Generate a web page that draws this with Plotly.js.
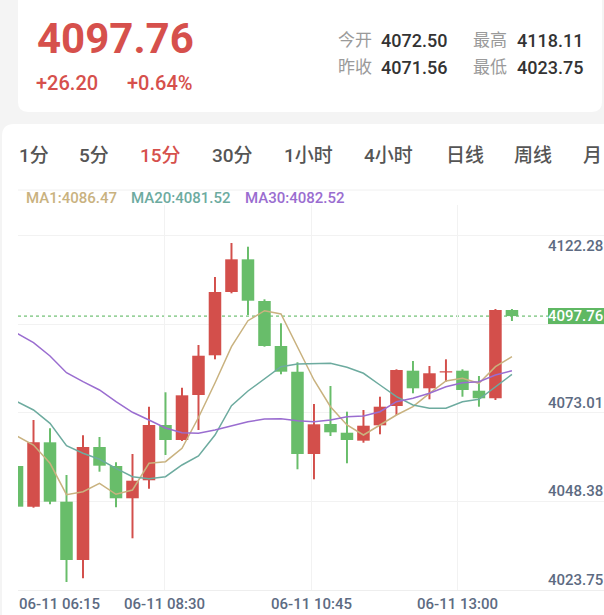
<!DOCTYPE html>
<html><head><meta charset="utf-8">
<script src="https://cdn.plot.ly/plotly-3.0.1.min.js"></script>
<style>html,body{margin:0;padding:0;background:#f4f4f4;overflow:hidden}#chart{width:604px;height:615px}</style>
</head><body><div id="chart"></div>
<script>
// ---------- data ----------
const times = ['06:15','06:30','06:45','07:00','07:15','07:30','07:45','08:00','08:15','08:30','08:45','09:00','09:15','09:30','09:45','10:00','10:15','10:30','10:45','11:00','11:15','11:30','11:45','12:00','12:15','12:30','12:45','13:00','13:15','13:30','13:45'];
const open  = [4056.04,4044.71,4062.63,4046.10,4029.87,4061.32,4056.04,4047.05,4052.06,4067.45,4063.27,4075.80,4086.85,4104.46,4113.56,4101.96,4089.43,4082.28,4059.38,4067.72,4065.30,4063.08,4067.36,4072.73,4082.56,4077.66,4082.06,4082.56,4076.99,4074.88,4099.45];
const close = [4044.71,4062.63,4046.10,4029.87,4061.32,4056.12,4047.05,4051.94,4067.45,4063.27,4075.71,4086.73,4104.46,4113.56,4102.04,4089.43,4082.28,4059.38,4067.64,4065.41,4063.27,4067.25,4072.54,4082.75,4077.66,4081.84,4082.40,4077.19,4074.88,4099.45,4097.76];
const high  = [4056.50,4068.84,4066.53,4053.53,4064.58,4064.11,4057.07,4059.38,4072.54,4076.55,4077.83,4089.71,4108.64,4118.11,4117.07,4102.43,4095.75,4084.90,4073.29,4078.30,4071.15,4071.62,4075.32,4082.95,4085.26,4083.87,4085.73,4082.95,4081.08,4099.73,4099.73];
const low   = [4044.50,4044.43,4045.38,4023.75,4024.78,4054.45,4044.54,4035.91,4049.72,4059.10,4062.99,4066.05,4085.73,4104.10,4098.06,4089.24,4081.56,4055.12,4052.33,4064.38,4056.79,4062.52,4064.86,4070.23,4076.27,4074.60,4079.50,4075.32,4072.54,4074.40,4096.39];
const ma1   = [4064.39,4061.88,4056.79,4048.05,4048.88,4051.22,4048.16,4049.36,4056.79,4057.23,4060.96,4069.53,4079.14,4089.24,4096.48,4099.26,4098.34,4089.24,4079.97,4072.54,4067.45,4064.66,4067.45,4070.23,4072.54,4076.27,4079.69,4080.44,4079.05,4083.67,4086.47];
const ma20  = [4073.93,4071.62,4067.92,4061.69,4059.57,4057.90,4055.39,4053.06,4052.50,4053.06,4056.31,4058.82,4064.66,4072.82,4076.91,4080.17,4083.67,4084.42,4084.42,4084.62,4083.51,4081.84,4078.58,4075.32,4073.01,4072.09,4072.09,4073.93,4074.60,4077.94,4081.52];
const ma30  = [4092.97,4090.35,4086.65,4082.00,4079.50,4077.19,4073.93,4070.98,4068.84,4066.61,4065.30,4065.14,4066.05,4067.25,4068.36,4069.12,4069.20,4068.64,4068.36,4068.84,4069.76,4069.95,4071.15,4073.93,4074.88,4076.27,4078.11,4079.22,4079.50,4081.36,4082.52];
const yTickLabels = ['4122.28','4097.65','4073.01','4048.38','4023.75'];
const xTickLabels = ['06-11 06:15','06-11 08:30','06-11 10:45','06-11 13:00'];
const lastPrice = 4097.76;
const legendTexts = ['MA1:4086.47','MA20:4081.52','MA30:4082.52'];
const tabs = ['1分','5分','15分','30分','1小时','4小时','日线','周线','月'];
const quoteLabels = ['今开','最高','昨收','最低'];
const quoteValues = ['4072.50','4118.11','4071.56','4023.75'];
const headPrice = '4097.76', headChange = '+26.20', headPct = '+0.64%';

// ---------- style ----------
const FONT = 'Roboto, "Noto Sans CJK SC", sans-serif';
const RED = '#d34f4b', GREEN = '#68bd6a';
const C_MA1 = '#c9b27f', C_MA20 = '#6dab9f', C_MA30 = '#9a6dd0';
const X0 = 18, W = 586, Y0 = 205, H = 385;
const PX = x => (x - X0) / W;
const PY = y => (Y0 + H - y) / H;

const idx = times.map((t, i) => i);
const up = close.map((c, i) => c >= open[i]);
const colors = up.map(u => u ? RED : GREEN);

const traces = [
  {type:'bar', x: idx, base: low, y: high.map((h,i)=>h-low[i]), width: 0.12,
   marker:{color: colors, line:{width:0}}, hoverinfo:'skip'},
  {type:'bar', x: idx, base: open.map((o,i)=>Math.min(o, close[i])),
   y: open.map((o,i)=>Math.max(Math.abs(close[i]-o), 0.35)), width: 0.76,
   marker:{color: colors, line:{width:0}}, hoverinfo:'skip'},
  {type:'scatter', mode:'lines', x: idx, y: ma1, line:{color:C_MA1, width:1.5}, hoverinfo:'skip'},
  {type:'scatter', mode:'lines', x: idx, y: ma20, line:{color:C_MA20, width:1.5}, hoverinfo:'skip'},
  {type:'scatter', mode:'lines', x: idx, y: ma30, line:{color:C_MA30, width:1.5}, hoverinfo:'skip'}
];

const xr = [0.06, 35.58];
const xGrid = [1,2,3].map(k => xr[0] + (xr[1]-xr[0]) * k / 4);
const gridOffset = 2.2;
const yGrid = yTickLabels.map(v => parseFloat(v) - gridOffset);

function rr(x0, y0, x1, y1, r) {
  const a = x => PX(x).toFixed(5), b = y => PY(y).toFixed(5);
  return `M${a(x0+r)},${b(y0)} L${a(x1-r)},${b(y0)} Q${a(x1)},${b(y0)} ${a(x1)},${b(y0+r)} L${a(x1)},${b(y1-r)} Q${a(x1)},${b(y1)} ${a(x1-r)},${b(y1)} L${a(x0+r)},${b(y1)} Q${a(x0)},${b(y1)} ${a(x0)},${b(y1-r)} L${a(x0)},${b(y0+r)} Q${a(x0)},${b(y0)} ${a(x0+r)},${b(y0)} Z`;
}

const shapes = [
  {type:'path', xref:'paper', yref:'paper', path: rr(18, -20, 602, 112, 10), fillcolor:'#ffffff', line:{width:0}, layer:'below'},
  {type:'path', xref:'paper', yref:'paper', path: rr(2, 124, 640, 660, 12), fillcolor:'#ffffff', line:{width:0}, layer:'below'},
  {type:'line', xref:'paper', yref:'paper', x0: PX(18), x1: 1, y0: PY(190), y1: PY(190), line:{color:'#f0f0f0', width:1}, layer:'below'},
  {type:'line', xref:'paper', yref:'y', x0: 0, x1: 1, y0: lastPrice, y1: lastPrice, line:{color:'#4fb153', width:1, dash:'dot'}, layer:'below'},
  {type:'rect', xref:'paper', yref:'y', ysizemode:'pixel', yanchor: lastPrice, y0:-8, y1:8, x0: PX(548), x1: 1, fillcolor:'#5fb863', line:{width:0}, layer:'above'}
];

function txt(text, x, y, size, color, weight, extra) {
  return Object.assign({text, xref:'paper', yref:'paper', x: PX(x), y: PY(y), xanchor:'left', yanchor:'middle',
    showarrow:false, borderpad:0, font:{family:FONT, size, color, weight: weight || 'normal'}}, extra || {});
}

const ann = [];
ann.push(txt(headPrice, 36, 38, 42, '#d6504c', 'bold'));
ann.push(txt(headChange, 35, 83.5, 20, '#d6504c', 500));
ann.push(txt(headPct, 126, 83.5, 20, '#d6504c', 500));
const qx = [[337, 380], [472, 516]];
const qy = [40, 67];
quoteLabels.forEach((l, i) => {
  const r = Math.floor(i / 2), c = i % 2;
  ann.push(txt(l, qx[c][0], qy[r], 17, '#9a9a9a'));
  ann.push(txt(quoteValues[i], qx[c][1], qy[r], 18, '#333333', 500));
});
const tabX = [18, 78, 139, 211, 283, 363, 445, 513, 582];
tabs.forEach((t, i) => ann.push(txt(t, tabX[i], 155, 19, t === '15分' ? '#d6504c' : '#555555', 500)));
const legX = [25, 130, 244];
const legC = [C_MA1, C_MA20, C_MA30];
legendTexts.forEach((t, i) => ann.push(txt(t, legX[i], 198.5, 15, legC[i], 500)));
// y labels (the one at the last-price level is covered by the price badge, as in the source)
yTickLabels.forEach((t, i) => {
  if (Math.abs(parseFloat(t) - lastPrice) < 3) return;
  ann.push({text: t, xref:'paper', yref:'y', x: 1, y: yGrid[i], xanchor:'right',
    yanchor: i === 0 ? 'top' : 'bottom', showarrow:false, borderpad:0, font:{family:FONT, size:15, color:'#5d6b82', weight:500}});
});
// badge text
ann.push({text: lastPrice.toFixed(2), xref:'paper', yref:'y', x: 1, y: lastPrice, xanchor:'right', yanchor:'middle',
  showarrow:false, borderpad:0, font:{family:FONT, size:15, color:'#ffffff', weight:500}});
// x labels
const xLabPos = [xr[0]].concat(xGrid);
xTickLabels.forEach((t, i) => ann.push({text: t, xref:'x', yref:'paper', x: xLabPos[i], y: PY(604), xanchor: i === 0 ? 'left' : 'center',
  yanchor:'middle', showarrow:false, borderpad:0, font:{family:FONT, size:15, color:'#5d6b82', weight:500}}));

const layout = {
  width: 604, height: 615, autosize:false,
  margin:{l:X0, r:0, t:Y0, b:615 - Y0 - H, pad:0},
  paper_bgcolor:'#f4f4f4', plot_bgcolor:'rgba(0,0,0,0)',
  showlegend:false, barmode:'overlay', hovermode:false,
  xaxis:{range: xr, tickvals: xGrid, showticklabels:false, showgrid:true, gridcolor:'#f2f2f2', gridwidth:1,
         zeroline:false, showline:true, linecolor:'#eeeeee', linewidth:1, ticks:'', fixedrange:true},
  yaxis:{range:[4021.52, 4128.68], tickvals: yGrid, showticklabels:false, showgrid:true, gridcolor:'#f2f2f2', gridwidth:1,
         zeroline:false, showline:false, ticks:'', fixedrange:true},
  shapes, annotations: ann,
  font:{family:FONT}
};
Plotly.newPlot('chart', traces, layout, {displayModeBar:false, staticPlot:true});
</script></body></html>
